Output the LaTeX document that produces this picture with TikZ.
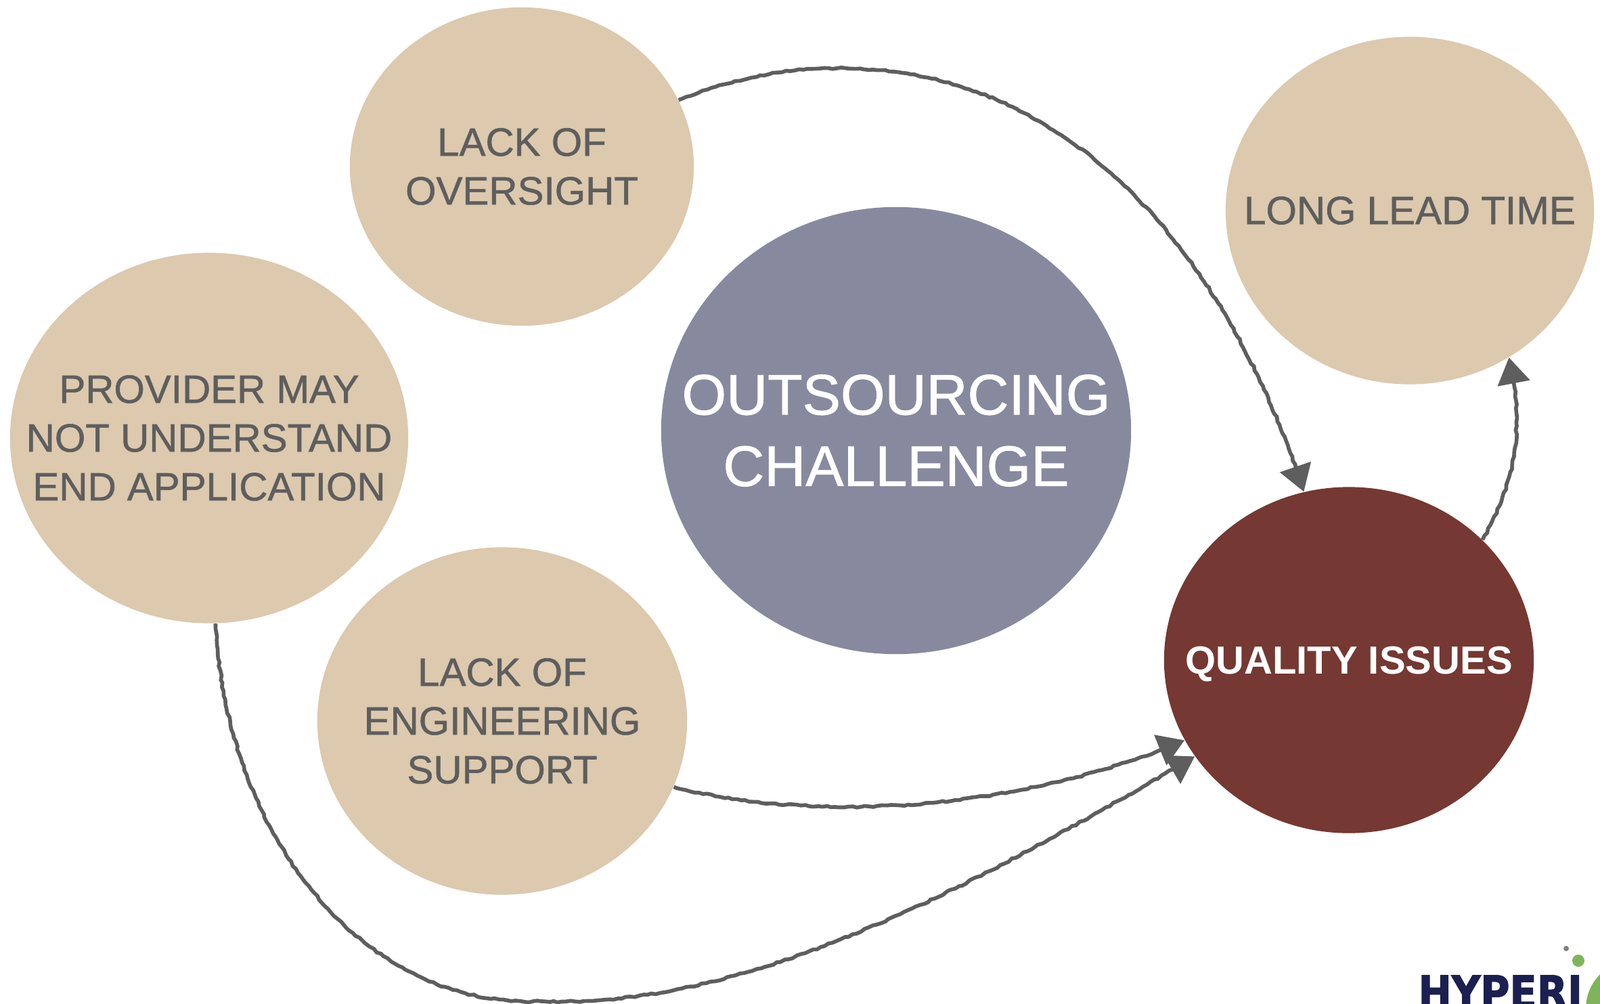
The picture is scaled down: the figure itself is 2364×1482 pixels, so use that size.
\documentclass[tikz,border=0pt]{standalone}
\usepackage{xcolor}
\usepackage{fontspec}
\setmainfont{Liberation Sans}
\newfontfamily\blobfont{Liberation Sans}[FakeBold=1]
\newfontfamily\logofont{DejaVu Sans Bold}[FakeBold=2]
\usetikzlibrary{shapes.geometric,decorations.pathmorphing,arrows.meta}
\definecolor{blobtan}{HTML}{DCC9AE}
\definecolor{blobslate}{HTML}{878A9E}
\definecolor{blobred}{HTML}{753832}
\definecolor{inkgrey}{HTML}{5E5E5E}
\definecolor{logonavy}{HTML}{1B2050}
\definecolor{logogreen}{HTML}{7FB55A}
\tikzset{
  blob/.style={ellipse,inner sep=-1.5cm,align=center},
  causeblob/.style={blob,fill=blobtan,text=inkgrey,font=\blobfont\fontsize{16.6}{20.5}\selectfont},
  sketch/.style={draw=inkgrey,line width=1.6pt,-{Triangle[length=11pt,width=13.5pt]},
    decorate,decoration={random steps,segment length=1.8pt,amplitude=.35pt,post length=11pt}}
}
\begin{document}
\begin{tikzpicture}[x=0.01cm,y=-0.01cm]
    \useasboundingbox (0,0) rectangle (2364,1482);

    \node [causeblob,minimum width=5.08cm,minimum height=4.7cm] (oversight) at (771,246) {LACK OF\\OVERSIGHT};
    \node [causeblob,minimum width=5.44cm,minimum height=5.13cm] (leadtime) at (2083,311) {LONG LEAD TIME};
    \node [causeblob,minimum width=5.88cm,minimum height=5.47cm] (provider) at (309,647) {PROVIDER MAY\\NOT UNDERSTAND\\END APPLICATION};
    \node [causeblob,minimum width=5.46cm,minimum height=5.13cm] (engineering) at (742,1065) {LACK OF\\ENGINEERING\\SUPPORT};
    \node [blob,fill=blobslate,text=white,font=\blobfont\fontsize{24}{30}\selectfont,minimum width=6.94cm,minimum height=6.6cm] (challenge) at (1324,636) {OUTSOURCING\\CHALLENGE};
    \node [blob,fill=blobred,text=white,text depth=0pt,font=\fontsize{16.5}{20.5}\selectfont\bfseries,minimum width=5.46cm,minimum height=5.11cm] (quality) at (1993,975) {QUALITY ISSUES};

    \draw [sketch] (oversight.23) .. controls (1100,110) and (1170,100) .. (1251,101) .. controls (1560,105) and (1800,340) .. (quality.105);
    \draw [sketch] (quality.42) .. controls (2235,720) and (2255,640) .. (leadtime.304);
    \draw [sketch] (engineering.-21) .. controls (1200,1215) and (1500,1200) .. (quality.206);
    \draw [sketch] (provider.272) .. controls (335,1240) and (540,1490) .. (799,1479) .. controls (1100,1490) and (1420,1320) .. (quality.212);

    \fill [gray] (2314,1401) circle [radius=4];
    \fill [logogreen] (2332,1419) circle [radius=9];
    \fill [logogreen] (2415,1490) circle [radius=72];
    \node [anchor=north west,inner sep=0,text=logonavy,font=\logofont\fontsize{19}{19}\selectfont,xscale=.88,transform shape] (logo) at (2095,1440) {HYPERI};
\end{tikzpicture}
\end{document}
